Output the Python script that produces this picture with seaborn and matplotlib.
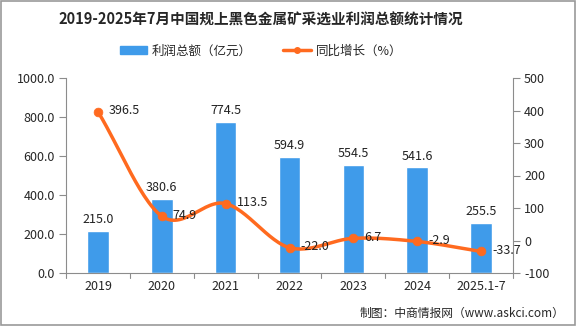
import numpy as np
import pandas as pd
import matplotlib
matplotlib.use("Agg")
import matplotlib.pyplot as plt
import seaborn as sns
from matplotlib.lines import Line2D
from matplotlib.patches import Patch, Rectangle

categories = ["2019", "2020", "2021", "2022", "2023", "2024", "2025.1-7"]
profit = [215.0, 380.6, 774.5, 594.9, 554.5, 541.6, 255.5]
growth = [396.5, 74.9, 113.5, -22.0, 6.7, -2.9, -33.7]
left_ticks = [0, 200, 400, 600, 800, 1000]
right_ticks = [-100, 0, 100, 200, 300, 400, 500]

sns.set_theme(style="white")
plt.rcParams['font.family'] = ['Noto Sans CJK SC', 'DejaVu Sans']

BLUE = "#3F9BEA"
ORANGE = "#FF6A1F"
GRAY = "#8C8C8C"

fig = plt.figure(figsize=(5.76, 3.26), dpi=100)
ax = fig.add_axes([66/576, 1-273/326, (513-66)/576, (273-78)/326])

df = pd.DataFrame({"cat": categories, "profit": profit, "growth": growth})
sns.barplot(data=df, x="cat", y="profit", color=BLUE, width=0.34, ax=ax,
            saturation=1, zorder=2)
ax.set_xlim(-0.5, len(categories) - 0.5)
ax.set_ylim(0, 1000)
ax.set_yticks(left_ticks)
ax.set_yticklabels([f"{v:.1f}" for v in left_ticks], fontsize=9)
ax.set_xlabel("")
ax.set_ylabel("")
ax.tick_params(axis="x", length=0, labelsize=9, pad=5)
for b in np.arange(-0.5, len(categories), 1.0):
    ax.plot([b, b], [0, -0.025], transform=ax.get_xaxis_transform(),
            color=GRAY, lw=0.8, clip_on=False)
ax.tick_params(axis="y", length=5, color=GRAY, width=0.8, labelsize=9, pad=3)
for s in ["top", "right"]:
    ax.spines[s].set_visible(False)
for s in ["left", "bottom"]:
    ax.spines[s].set_color(GRAY)
    ax.spines[s].set_linewidth(0.8)

for i, v in enumerate(profit):
    ax.text(i, v + 25, f"{v:.1f}", ha="center", va="bottom", fontsize=9, color="#222222")

ax2 = ax.twinx()
ax2.set_position(ax.get_position())
ax2.set_ylim(-100, 500)
ax2.set_yticks(right_ticks)
ax2.set_yticklabels([str(v) for v in right_ticks], fontsize=9)
ax2.tick_params(axis="y", length=5, color=GRAY, width=0.8, labelsize=9, pad=3)
for s in ["top", "left", "bottom"]:
    ax2.spines[s].set_visible(False)
ax2.spines["right"].set_color(GRAY)
ax2.spines["right"].set_linewidth(0.8)
ax2.grid(False)

# smooth line (Catmull-Rom through data points, rendering only)
x = np.arange(len(growth), dtype=float)
y = np.array(growth, dtype=float)
px = np.concatenate([[x[0] - (x[1] - x[0])], x, [x[-1] + (x[-1] - x[-2])]])
py = np.concatenate([[y[0] - (y[1] - y[0])], y, [y[-1] + (y[-1] - y[-2])]])
sx, sy = [], []
t = np.linspace(0, 1, 30)
for i in range(1, len(px) - 2):
    p0, p1, p2, p3 = py[i-1], py[i], py[i+1], py[i+2]
    q0, q1, q2, q3 = px[i-1], px[i], px[i+1], px[i+2]
    f = lambda a, b, c, d: 0.5 * ((2*b) + (-a + c)*t + (2*a - 5*b + 4*c - d)*t**2 + (-a + 3*b - 3*c + d)*t**3)
    sx.extend(f(q0, q1, q2, q3))
    sy.extend(f(p0, p1, p2, p3))
ax2.plot(sx, sy, color=ORANGE, lw=2.5, zorder=3, solid_capstyle="round")
sns.scatterplot(x=x, y=y, color=ORANGE, s=40, edgecolor=ORANGE, ax=ax2, zorder=4, legend=False)
for i, v in enumerate(growth):
    ax2.text(i + 0.17, v + 2, f"{v:.1f}", ha="left", va="center", fontsize=9, color="#222222", zorder=5)

CX = 261 / 576
fig.text(CX, 1 - 20/326, "2019-2025年7月中国规上黑色金属矿采选业利润总额统计情况",
         ha="center", va="center", fontsize=10.5, fontweight="bold")

handles = [Patch(color=BLUE),
           Line2D([0], [0], color=ORANGE, lw=2.5, marker="o", markersize=4)]
fig.legend(handles, ["利润总额（亿元）", "同比增长（%）"], loc="center",
           bbox_to_anchor=(CX, 1 - 51/326), ncol=2, frameon=False, fontsize=9,
           handlelength=2.2, handleheight=0.6, columnspacing=2.5, handletextpad=0.4)

fig.text(1 - 12/576, 1 - 313/326, "制图：中商情报网（www.askci.com）",
         ha="right", va="center", fontsize=8.5)

fig.patches.append(Rectangle((0.001, 0.002), 0.997, 0.996, transform=fig.transFigure,
                             fill=False, edgecolor="#999999", lw=1.2))

fig.savefig("out.png", dpi=100)
